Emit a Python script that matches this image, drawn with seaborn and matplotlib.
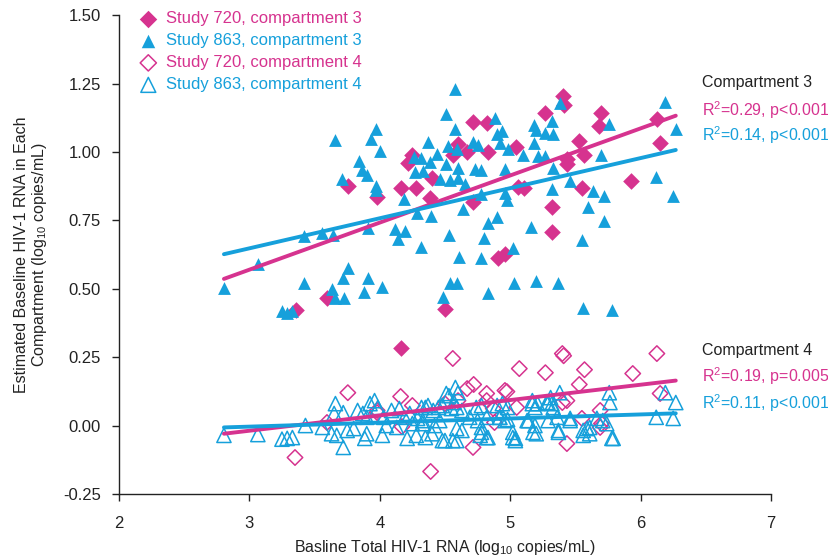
import numpy as np
import pandas as pd
import matplotlib
matplotlib.use("Agg")
import matplotlib.pyplot as plt
import seaborn as sns

# colours of the two studies
PINK = "#d6338f"
BLUE = "#16a0db"

# Study 720, compartment 3 (filled diamonds)
x720_c3 = [4.715, 4.82, 4.60, 4.67, 4.83, 4.56, 4.25, 4.22, 4.40, 3.76, 4.16, 4.28, 3.98,
           4.385, 4.715, 4.91, 4.96, 3.595, 3.36, 4.50, 5.405, 5.41, 5.27, 5.70, 5.68, 5.045,
           5.53, 5.57, 5.435, 5.435, 6.125, 6.15, 5.93, 5.55, 5.06, 5.105, 5.32, 5.32, 4.16]
y720_c3 = [1.109, 1.106, 1.03, 1.00, 1.00, 0.99, 0.99, 0.96, 0.905, 0.876, 0.869, 0.869, 0.836,
           0.832, 0.818, 0.613, 0.628, 0.467, 0.423, 0.427, 1.204, 1.17, 1.142, 1.142, 1.095, 1.018,
           1.04, 0.989, 0.974, 0.956, 1.12, 1.033, 0.894, 0.869, 0.872, 0.869, 0.80, 0.708, 0.285]

# Study 863, compartment 3 (filled triangles)
x863_c3 = [4.58, 4.51, 4.88, 3.97, 4.58, 3.66, 3.93, 4.37, 4.00, 4.52, 4.715, 4.75, 4.90, 4.94,
           4.92, 4.59, 4.44, 4.26, 4.32, 4.385, 3.84, 3.86, 3.90, 4.51, 4.60, 4.73, 4.78, 4.27,
           4.33, 4.60, 4.54, 4.46, 4.96, 3.71, 3.97, 3.97, 4.65, 4.78, 4.96, 4.975, 4.185, 4.285,
           4.39, 4.64, 4.83, 4.90, 3.91, 4.12, 4.19, 4.14, 3.42, 3.56, 3.64, 4.53, 4.80, 4.32,
           4.61, 4.775, 3.065, 3.755, 3.72, 3.91, 3.42, 4.02, 2.805, 3.635, 3.88, 3.66, 3.725,
           4.54, 4.59, 4.83, 4.485, 3.25, 3.29, 3.33,
           5.18, 5.20, 5.32, 5.27, 5.33, 5.38, 5.18, 5.10, 5.21, 5.27, 4.98, 5.33, 5.46, 5.70,
           5.76, 6.19, 6.27, 6.12, 6.25, 5.32, 5.635, 5.72, 5.60, 5.16, 5.72, 5.55, 5.02, 5.03,
           5.20, 5.37, 5.56, 5.78]
y863_c3 = [1.23, 1.139, 1.124, 1.084, 1.084, 1.044, 1.047, 1.036, 1.004, 1.022, 1.036, 1.026, 1.066, 1.077,
           1.033, 1.011, 0.993, 0.982, 0.978, 0.964, 0.967, 0.934, 0.916, 0.956, 0.942, 0.938, 0.934, 0.927,
           0.93, 0.905, 0.898, 0.90, 0.938, 0.90, 0.876, 0.861, 0.883, 0.847, 0.85, 0.825, 0.828, 0.777,
           0.766, 0.792, 0.741, 0.763, 0.723, 0.719, 0.712, 0.682, 0.693, 0.704, 0.697, 0.697, 0.686, 0.653,
           0.617, 0.613, 0.591, 0.577, 0.54, 0.54, 0.522, 0.507, 0.504, 0.50, 0.489, 0.467, 0.467,
           0.522, 0.522, 0.485, 0.471, 0.42, 0.41, 0.42,
           1.099, 1.08, 1.113, 1.07, 1.066, 1.179, 1.033, 0.989, 0.985, 0.985, 1.011, 0.942, 0.894, 0.989,
           1.102, 1.182, 1.084, 0.909, 0.839, 0.865, 0.858, 0.839, 0.80, 0.726, 0.748, 0.679, 0.65, 0.522,
           0.529, 0.522, 0.431, 0.423]

# Study 720, compartment 4 (open diamonds)
x720_c4 = [4.56, 3.755, 4.16, 4.25, 4.67, 4.72, 4.82, 4.96, 3.98, 3.35, 4.39, 4.715, 3.595, 4.60,
           5.40, 5.41, 5.07, 5.27, 5.57, 6.125, 5.94, 5.53, 4.975, 5.435, 6.15, 5.05, 5.55, 5.69,
           5.435, 4.87, 4.82, 5.40, 4.50, 4.88, 5.69, 5.70, 4.17, 3.98]
y720_c4 = [0.245, 0.12, 0.106, 0.073, 0.135, 0.15, 0.117, 0.128, 0.055, -0.117, -0.168, -0.08, 0.011, 0.091,
           0.263, 0.255, 0.208, 0.193, 0.204, 0.263, 0.19, 0.15, 0.124, 0.091, 0.117, 0.066, 0.026, -0.007,
           -0.066, 0.062, 0.091, 0.084, 0.08, 0.011, 0.055, 0.007, -0.004, 0.047]

# Study 863, compartment 4 (open triangles)
x863_c4 = [2.805, 3.065, 3.25, 3.29, 3.33, 3.43, 3.56, 3.63, 3.67, 3.66, 3.65, 3.72, 3.72, 3.75,
           3.83, 3.87, 3.90, 3.925, 3.96, 3.985, 3.90, 3.885, 4.02, 4.13, 4.21, 4.19, 4.23, 4.25,
           4.29, 4.33, 4.58, 4.51, 4.32, 4.37,
           4.35, 4.41, 4.45, 4.48, 4.55, 4.59, 4.63, 4.74, 4.78, 4.90, 4.94, 4.98, 5.17, 5.19,
           5.28, 5.32, 5.33, 5.765, 5.46, 5.59, 5.61, 5.78, 4.40, 4.48, 4.56, 4.59, 4.63, 4.77,
           4.82, 4.78, 5.02, 5.04, 5.175, 5.37, 5.36, 5.14, 4.96, 4.92, 4.82, 4.69, 4.75, 4.46,
           4.33,
           5.76, 6.19, 6.27, 6.12, 6.25, 5.79, 5.56, 5.56, 5.37, 5.20, 5.04, 5.02, 4.83, 4.78,
           4.59, 4.50, 5.38, 5.17, 5.21, 5.31, 5.29, 5.46, 5.665, 5.71, 5.74, 5.61, 5.13, 5.19,
           4.98, 4.92, 4.53, 4.57, 5.29,
           4.09, 4.15, 4.03, 4.28, 4.35, 4.42, 3.80, 4.05, 4.60]
y863_c4 = [-0.036, -0.033, -0.05, -0.047, -0.044, 0.0, -0.007, -0.03, -0.036, 0.08, 0.044, 0.047, -0.08, -0.018,
           0.055, 0.044, 0.03, 0.08, 0.091, 0.066, -0.03, -0.047, -0.036, -0.007, -0.047, 0.03, 0.044, 0.007,
           0.026, 0.018, 0.139, 0.117, 0.066, 0.073,
           0.066, 0.055, 0.066, 0.073, 0.062, 0.066, 0.055, 0.066, 0.073, 0.073, 0.08, 0.066, 0.08, 0.066,
           0.084, 0.08, 0.066, 0.084, 0.018, -0.011, -0.03, -0.047, -0.03, -0.055, -0.055, -0.011, -0.018, -0.036,
           -0.044, -0.007, -0.044, -0.055, -0.025, -0.018, 0.03, 0.018, 0.018, 0.03, 0.03, 0.03, 0.018, 0.018,
           0.007,
           0.12, 0.12, 0.084, 0.03, 0.026, -0.047, -0.036, -0.018, -0.025, -0.03, -0.047, -0.025, -0.044, -0.025,
           -0.055, -0.055, 0.12, 0.091, 0.08, 0.102, 0.084, 0.026, 0.026, 0.018, 0.007, -0.007, 0.018, 0.0,
           0.022, 0.03, 0.109, 0.084, 0.018,
           0.055, 0.062, 0.03, -0.036, -0.044, 0.0, -0.011, 0.0, 0.12]

x_ticks = [2, 3, 4, 5, 6, 7]
y_ticks = [-0.25, 0.0, 0.25, 0.50, 0.75, 1.00, 1.25, 1.50]

stats_c3 = ["R$^2$=0.29, p<0.001", "R$^2$=0.14, p<0.001"]
stats_c4 = ["R$^2$=0.19, p=0.005", "R$^2$=0.11, p<0.001"]

sns.set_style("ticks")
plt.rcParams['font.family'] = ['Liberation Sans', 'DejaVu Sans']
plt.rcParams['mathtext.fontset'] = 'custom'
plt.rcParams['mathtext.rm'] = 'Liberation Sans'

fig, ax = plt.subplots(figsize=(8.29, 5.6), dpi=100)
fig.subplots_adjust(left=0.1435, right=0.930, bottom=0.118, top=0.973)

series = [
    ("Study 720, compartment 3", x720_c3, y720_c3, "D", PINK, True, 72),
    ("Study 863, compartment 3", x863_c3, y863_c3, "^", BLUE, True, 85),
    ("Study 720, compartment 4", x720_c4, y720_c4, "D", PINK, False, 62),
    ("Study 863, compartment 4", x863_c4, y863_c4, "^", BLUE, False, 105),
]

for label, xs, ys, mk, col, filled, size in series:
    if filled:
        sns.scatterplot(x=xs, y=ys, marker=mk, color=col, s=size, linewidth=0,
                        label=label, ax=ax, zorder=2)
    else:
        sns.scatterplot(x=xs, y=ys, marker=mk, facecolor="none", edgecolor=col, s=size,
                        linewidth=1.1, label=label, ax=ax, zorder=2)

# regression lines over the common x range of all samples
all_x = np.concatenate([x720_c3, x863_c3, x720_c4, x863_c4])
xgrid = np.linspace(all_x.min(), all_x.max(), 50)
for label, xs, ys, mk, col, filled, size in series:
    slope, icpt = np.polyfit(xs, ys, 1)
    sns.lineplot(x=xgrid, y=icpt + slope * xgrid, color=col, lw=2.8, ax=ax, zorder=3)

ax.set_xlim(2, 7)
ax.set_ylim(-0.25, 1.5)
ax.set_xticks(x_ticks)
ax.set_yticks(y_ticks)
ax.set_yticklabels([f"{v:.2f}" for v in y_ticks])
ax.tick_params(labelsize=12, length=5, width=1, color="#222222", labelcolor="#222222")
ax.tick_params(axis="x", pad=11)
ax.tick_params(axis="y", pad=8)
for s in ["top", "right"]:
    ax.spines[s].set_visible(False)
for s in ["left", "bottom"]:
    ax.spines[s].set_color("#222222")
    ax.spines[s].set_linewidth(1)

ax.set_xlabel("Basline Total HIV-1 RNA (log$_{10}$ copies/mL)", fontsize=11.4, color="#222222", labelpad=5)
ax.set_ylabel("Estimated Baseline HIV-1 RNA in Each\nCompartment (log$_{10}$ copies/mL)",
              fontsize=11.5, color="#222222", labelpad=10, linespacing=1.1)

leg = ax.legend(loc="upper left", bbox_to_anchor=(0.022, 1.022), frameon=False, fontsize=12,
                handletextpad=0.55, handlelength=1.0, labelspacing=0.42, borderaxespad=0,
                markerscale=1.05)
for txt, (_, _, _, _, col, _, _) in zip(leg.get_texts(), series):
    txt.set_color(col)

# annotation block on the right
tx = 6.47
ax.text(tx, 1.252, "Compartment 3", fontsize=11.5, color="#222222", va="center", clip_on=False)
ax.text(tx, 1.153, stats_c3[0], fontsize=11.5, color=PINK, va="center", clip_on=False)
ax.text(tx, 1.062, stats_c3[1], fontsize=11.5, color=BLUE, va="center", clip_on=False)
ax.text(tx, 0.274, "Compartment 4", fontsize=11.5, color="#222222", va="center", clip_on=False)
ax.text(tx, 0.179, stats_c4[0], fontsize=11.5, color=PINK, va="center", clip_on=False)
ax.text(tx, 0.080, stats_c4[1], fontsize=11.5, color=BLUE, va="center", clip_on=False)

fig.savefig("out.png", dpi=100)
